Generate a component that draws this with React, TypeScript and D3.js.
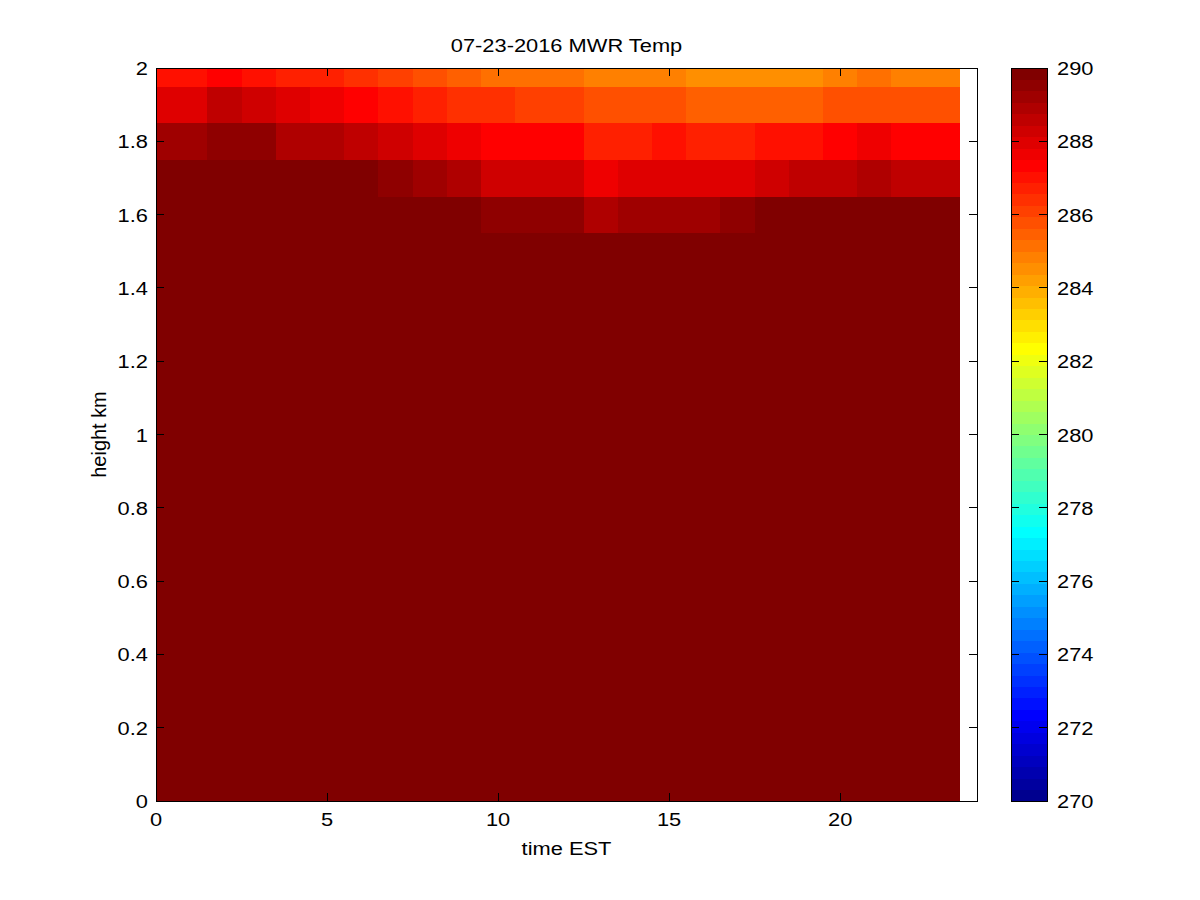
import React from "react";
import * as d3 from "d3";

// ---------- data ----------
const HOURS = [0, 1, 2, 3, 4, 5, 6, 7, 8, 9, 10, 11, 12, 13, 14, 15, 16, 17, 18, 19, 20, 21, 22, 23];

// upper levels (km) with readable colours
const TEMP_2_0 = [287.0, 287.0, 287.3, 287.0, 286.7, 286.7, 286.4, 286.1, 285.8, 285.5, 285.2, 285.2, 285.2, 284.8, 284.8, 284.8, 284.5, 284.5, 284.5, 284.5, 284.8, 285.2, 284.8, 284.8];
const TEMP_1_9 = [288.0, 288.0, 288.6, 288.3, 288.0, 287.7, 287.3, 287.0, 286.7, 286.4, 286.4, 286.1, 286.1, 285.8, 285.8, 285.8, 285.5, 285.5, 285.5, 285.5, 285.8, 285.8, 285.8, 285.8];
const TEMP_1_8 = [289.2, 289.2, 289.5, 289.5, 288.9, 288.9, 288.6, 288.3, 288.0, 287.7, 287.3, 287.3, 287.3, 286.7, 286.7, 287.0, 286.7, 286.7, 287.0, 287.0, 287.3, 287.7, 287.3, 287.3];
const TEMP_1_7 = [290.3, 290.3, 290.3, 290.3, 290.3, 290.3, 290.3, 289.5, 289.2, 288.9, 288.3, 288.3, 288.3, 287.7, 288.0, 288.0, 288.0, 288.0, 288.3, 288.6, 288.6, 288.9, 288.6, 288.6];
const TEMP_1_6 = [290.5, 290.5, 290.5, 290.5, 290.5, 290.5, 290.5, 290.5, 290.5, 290.5, 289.5, 289.5, 289.5, 288.9, 289.2, 289.2, 289.2, 289.5, 290.4, 290.4, 290.4, 290.4, 290.4, 290.4];

// lower levels: colour saturates at the top of the scale (>= 290 K)
const LOWER_HEIGHTS = [0, 0.1, 0.2, 0.3, 0.4, 0.5, 0.6, 0.7, 0.8, 0.9, 1.0, 1.1, 1.2, 1.3, 1.4, 1.5];
const LOWER_TEMPS = [290, 290, 290, 290, 290, 290, 290, 290, 290, 290, 290, 290, 290, 290, 290, 290];

const UPPER_HEIGHTS = [1.6, 1.7, 1.8, 1.9, 2.0];
const UPPER_TEMPS = [TEMP_1_6, TEMP_1_7, TEMP_1_8, TEMP_1_9, TEMP_2_0];

const X_TICKS = [0, 5, 10, 15, 20];
const Y_TICKS = [0, 0.2, 0.4, 0.6, 0.8, 1, 1.2, 1.4, 1.6, 1.8, 2];
const C_TICKS = [270, 272, 274, 276, 278, 280, 282, 284, 286, 288, 290];

const TITLE = "07-23-2016 MWR Temp";
const X_LABEL = "time EST";
const Y_LABEL = "height km";

// ---------- colormap (MATLAB jet, 64) ----------
function jet(m: number): string[] {
  const n = Math.ceil(m / 4);
  const u: number[] = [];
  for (let i = 1; i <= n; i++) u.push(i / n);
  for (let i = 1; i < n; i++) u.push(1);
  for (let i = n; i >= 1; i--) u.push(i / n);
  const off = Math.ceil(n / 2) - (m % 4 === 1 ? 1 : 0);
  const J = Array.from({ length: m }, () => [0, 0, 0]);
  for (let k = 0; k < u.length; k++) {
    const g = off + k + 1;
    const r = g + n;
    const b = g - n;
    if (g >= 1 && g <= m) J[g - 1][1] = u[k];
    if (r >= 1 && r <= m) J[r - 1][0] = u[k];
    if (b >= 1 && b <= m) J[b - 1][2] = u[k];
  }
  return J.map(([r, g, b]) => d3.rgb(Math.round(r * 255), Math.round(g * 255), Math.round(b * 255)).formatHex());
}
const CMAP = jet(64);
const CMIN = 270, CMAX = 290;
function colorOf(v: number) {
  let idx = Math.floor(((v - CMIN) / (CMAX - CMIN)) * CMAP.length);
  idx = Math.max(0, Math.min(CMAP.length - 1, idx));
  return CMAP[idx];
}

// ---------- layout ----------
const W = 1200, H = 900;
const AX = { left: 156, right: 977, top: 68, bottom: 801 };
const CB = { left: 1011, right: 1047 };
const FONT = "'Liberation Sans', Arial, Helvetica, sans-serif";
const FS = 19;
const SX = 1.15;

const x = d3.scaleLinear().domain([0, 24]).range([AX.left, AX.right]);
const y = d3.scaleLinear().domain([0, 2]).range([AX.bottom, AX.top]);
const cy = d3.scaleLinear().domain([CMIN, CMAX]).range([AX.bottom, AX.top]);

function Label({ x0, y0, text, anchor = "middle", transform }: { x0: number; y0: number; text: string; anchor?: string; transform?: string }) {
  return (
    <g transform={`translate(${x0},${y0}) ${transform ?? `scale(${SX},1)`}`}>
      <text textAnchor={anchor as any} fontFamily={FONT} fontSize={FS} fill="#000">{text}</text>
    </g>
  );
}

export default function App() {
  const cells: { x0: number; x1: number; y0: number; y1: number; v: number }[] = [];
  const addRow = (h: number, vals: number[]) => {
    HOURS.forEach((t, i) => {
      cells.push({
        x0: Math.max(0, t - 0.5),
        x1: t + 0.5,
        y0: Math.max(0, h - 0.05),
        y1: Math.min(2, h + 0.05),
        v: vals[i],
      });
    });
  };
  LOWER_HEIGHTS.forEach((h, j) => addRow(h, HOURS.map(() => LOWER_TEMPS[j])));
  UPPER_HEIGHTS.forEach((h, j) => addRow(h, UPPER_TEMPS[j]));

  const tickLen = 8;
  const cbBand = (CMAX - CMIN) / CMAP.length;

  return (
    <svg width={W} height={H} style={{ position: "absolute", left: 0, top: 0, background: "#fff" }}>
      <rect x={0} y={0} width={W} height={H} fill="#fff" />
      {/* heatmap */}
      <g shapeRendering="crispEdges">
        {cells.map((c, i) => (
          <rect
            key={i}
            x={x(c.x0)}
            y={y(c.y1)}
            width={x(c.x1) - x(c.x0) + 0.5}
            height={y(c.y0) - y(c.y1) + 0.5}
            fill={colorOf(c.v)}
          />
        ))}
      </g>
      {/* axes box and ticks */}
      <g stroke="#000" strokeWidth={1} shapeRendering="crispEdges" fill="none">
        <rect x={AX.left} y={AX.top} width={AX.right - AX.left} height={AX.bottom - AX.top} />
        {X_TICKS.map((t) => (
          <g key={"xt" + t}>
            <line x1={x(t)} x2={x(t)} y1={AX.bottom} y2={AX.bottom - tickLen} />
            <line x1={x(t)} x2={x(t)} y1={AX.top} y2={AX.top + tickLen} />
          </g>
        ))}
        {Y_TICKS.map((t) => (
          <g key={"yt" + t}>
            <line x1={AX.left} x2={AX.left + tickLen} y1={y(t)} y2={y(t)} />
            <line x1={AX.right} x2={AX.right - tickLen} y1={y(t)} y2={y(t)} />
          </g>
        ))}
      </g>
      {X_TICKS.map((t) => (
        <Label key={"xl" + t} x0={x(t)} y0={826} text={String(t)} />
      ))}
      {Y_TICKS.map((t) => (
        <Label key={"yl" + t} x0={148} y0={y(t) + 7} text={String(t)} anchor="end" />
      ))}
      <Label x0={(AX.left + AX.right) / 2} y0={52} text={TITLE} />
      <Label x0={(AX.left + AX.right) / 2} y0={855} text={X_LABEL} />
      <Label x0={106} y0={(AX.top + AX.bottom) / 2} text={Y_LABEL} transform={`scale(1.1,1) rotate(-90) scale(1.05,1)`} />

      {/* colorbar */}
      <g shapeRendering="crispEdges">
        {CMAP.map((col, i) => {
          const v0 = CMIN + i * cbBand;
          const v1 = v0 + cbBand;
          return <rect key={"cb" + i} x={CB.left} y={cy(v1)} width={CB.right - CB.left} height={cy(v0) - cy(v1) + 0.5} fill={col} />;
        })}
      </g>
      <g stroke="#000" strokeWidth={1} shapeRendering="crispEdges" fill="none">
        <rect x={CB.left} y={AX.top} width={CB.right - CB.left} height={AX.bottom - AX.top} />
        {C_TICKS.map((t) => (
          <g key={"ct" + t}>
            <line x1={CB.left} x2={CB.left + tickLen} y1={cy(t)} y2={cy(t)} />
            <line x1={CB.right} x2={CB.right - tickLen} y1={cy(t)} y2={cy(t)} />
          </g>
        ))}
      </g>
      {C_TICKS.map((t) => (
        <Label key={"cl" + t} x0={1057} y0={cy(t) + 7} text={String(t)} anchor="start" />
      ))}
    </svg>
  );
}
